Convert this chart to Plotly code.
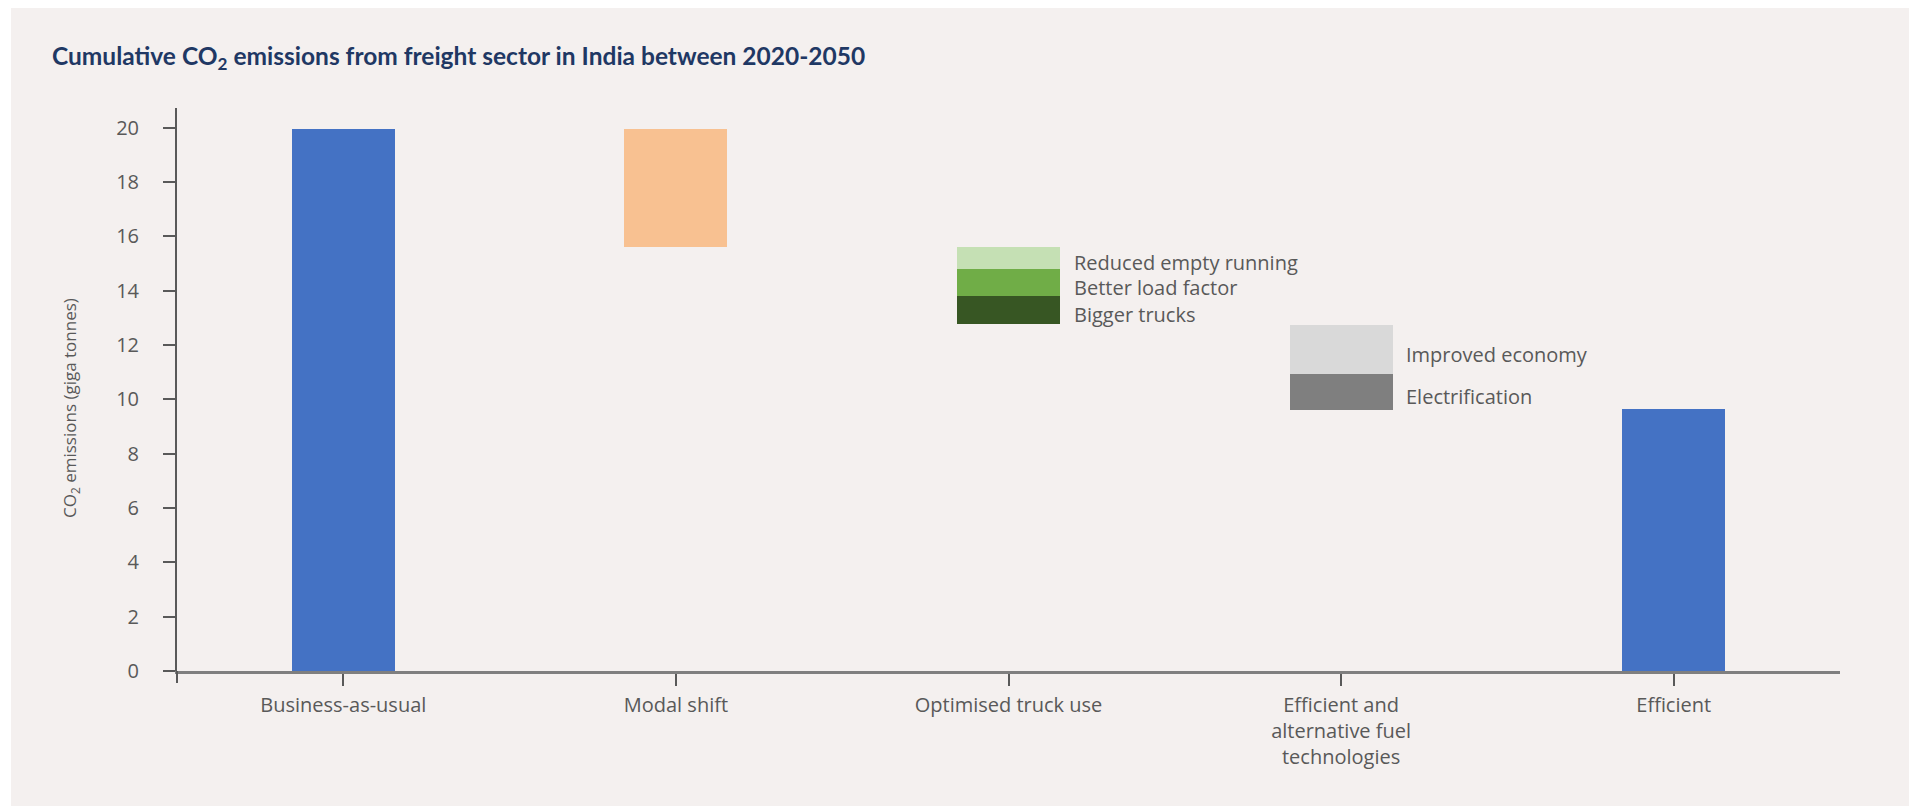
import plotly.graph_objects as go

# ---- data ----
categories = ["Business-as-usual", "Modal shift", "Optimised truck use",
              "Efficient and<br>alternative fuel<br>technologies", "Efficient"]

# segment name, category index, bottom value, top value
seg_names = ["Business-as-usual", "Modal shift", "Bigger trucks", "Better load factor",
             "Reduced empty running", "Electrification", "Improved economy", "Efficient"]
seg_category = [0, 1, 2, 2, 2, 3, 3, 4]
seg_bottom = [0.0, 15.62, 12.78, 13.81, 14.81, 9.60, 10.94, 0.0]
seg_top = [19.93, 19.96, 13.81, 14.81, 15.62, 10.94, 12.75, 9.63]
seg_colors = ["#4472c4", "#f8c191", "#375623", "#70ad47", "#c5e0b4",
              "#7f7f7f", "#d9d9d9", "#4472c4"]
seg_labelled = [False, False, True, True, True, True, True, False]

y_ticks = [0, 2, 4, 6, 8, 10, 12, 14, 16, 18, 20]

TEXT = "#595959"
FONT = "Open Sans"

fig = go.Figure()
for name, ci, b, t, c in zip(seg_names, seg_category, seg_bottom, seg_top, seg_colors):
    fig.add_trace(go.Bar(
        x=[categories[ci]], y=[t - b], base=[b], name=name,
        marker=dict(color=c, line=dict(width=0)), width=0.31,
        showlegend=False, hoverinfo="name+y",
    ))

# segment labels on the right of the stacked pieces
for name, ci, b, t, lab in zip(seg_names, seg_category, seg_bottom, seg_top, seg_labelled):
    if not lab:
        continue
    fig.add_annotation(
        x=categories[ci], y=(b + t) / 2, xref="x", yref="y",
        text=name, showarrow=False, xanchor="left", yanchor="middle",
        xshift=63, yshift=-5, font=dict(family=FONT, size=20, color=TEXT),
    )

# layout geometry (pixels; page body adds an 8px offset)
OFF = 8
W, H = 1901, 798
L, R, T, B = 169, 69, 100, 135
pw, ph = W - L - R, H - T - B

def px_x(px):  # px given in screenshot coordinates
    return (px - OFF - L) / pw

def px_y(py):
    return (H - B - (py - OFF)) / ph

# background card
fig.add_shape(type="rect", xref="paper", yref="paper",
              x0=px_x(11), x1=px_x(1912), y0=px_y(812), y1=px_y(8),
              fillcolor="#f4f0ef", line=dict(width=0), layer="below")
# y-axis line extension below the x axis
fig.add_shape(type="line", xref="paper", yref="paper",
              x0=0, x1=0, y0=px_y(683), y1=0,
              line=dict(color=TEXT, width=2))

# title
fig.add_annotation(
    xref="paper", yref="paper", x=px_x(50), y=px_y(57),
    xanchor="left", yanchor="middle", showarrow=False,
    text="<b>Cumulative CO<sub>2</sub> emissions from freight sector in India between 2020-2050</b>",
    font=dict(family="Lato", size=24.5, color="#1f3864"),
)
# y-axis title
fig.add_annotation(
    xref="paper", yref="paper", x=px_x(70), y=px_y(408),
    xanchor="center", yanchor="middle", showarrow=False, textangle=-90,
    text="CO<sub>2</sub> emissions (giga tonnes)",
    font=dict(family=FONT, size=17, color=TEXT),
)

fig.update_layout(
    width=W, height=H,
    margin=dict(l=L, r=R, t=T, b=B, pad=0),
    paper_bgcolor="white", plot_bgcolor="rgba(0,0,0,0)",
    barmode="overlay", bargap=0,
    font=dict(family=FONT, color=TEXT),
    xaxis=dict(
        type="category", categoryorder="array", categoryarray=categories,
        range=[-0.5, 4.5], showgrid=False, zeroline=False,
        showline=True, linecolor="#7f7f7f", linewidth=2.5,
        ticks="outside", ticklen=12, tickwidth=2, tickcolor=TEXT,
        tickfont=dict(family=FONT, size=20, color=TEXT),
        ticklabelstandoff=2,
    ),
    yaxis=dict(
        range=[0, 20.72], tickvals=y_ticks, ticktext=[str(v) for v in y_ticks],
        showgrid=False, zeroline=False,
        showline=True, linecolor=TEXT, linewidth=2,
        ticks="outside", ticklen=12, tickwidth=2, tickcolor=TEXT,
        tickfont=dict(family=FONT, size=20, color=TEXT),
        ticklabelstandoff=20,
    ),
)

fig.write_html("out.html")
